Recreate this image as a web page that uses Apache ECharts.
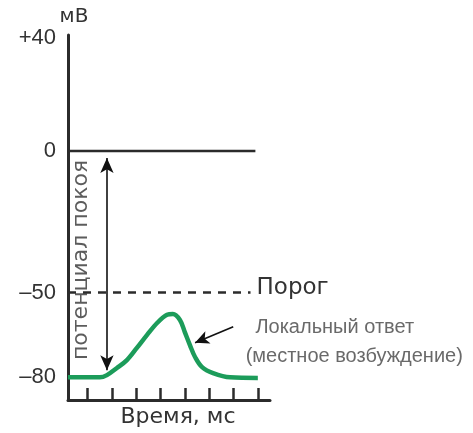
<!DOCTYPE html>
<html><head><meta charset="utf-8">
<script src="https://cdn.jsdelivr.net/npm/echarts@6/dist/echarts.min.js"></script>
<style>html,body{margin:0;padding:0;background:#fff}#c{width:473px;height:433px}</style>
</head><body><div id="c"></div>
<script>
// Data
const timeMs = [0.2, 1.51, 1.80, 2.21, 2.62, 3.03, 3.45, 3.86, 4.27, 4.51, 4.80, 5.00, 5.21, 5.42, 5.71, 6.16, 6.86, 8.0];
const potentialMv = [-80, -80, -79.2, -76.7, -73.9, -69.6, -65.0, -60.8, -57.9, -57.6, -59.7, -64.0, -68.6, -72.8, -76.4, -78.5, -80, -80.2];
const yTickValues = [40, 0, -50, -80];
const yTickLabels = ['+40', '0', '\u201350', '\u201380'];
const xTickValues = [1, 2, 3, 4, 5, 6, 7, 8];
const zeroLevel = 0, thresholdLevel = -50, restLevel = -80;
const zeroLineT = [0.2, 7.9];
const thresholdLineT = [0.2, 7.7];
const restArrowT = 1.8;
const yName = 'мВ', xName = 'Время, мс';
const thresholdText = 'Порог';
const restText = 'потенциал покоя';
const localText1 = 'Локальный ответ', localText2 = '(местное возбуждение)';
const pointerFrom = [6.99, -62.1], pointerTo = [5.42, -67.8];

const font = 'DejaVu Sans, sans-serif';
const font2 = 'Liberation Sans, Arial, sans-serif';
const dark = '#2b2b2b';
const chart = echarts.init(document.getElementById('c'));
chart.setOption({
  animation: false,
  grid: {left: 68, right: 203, top: 35, bottom: 33, containLabel: false, outerBoundsMode: 'none'},
  xAxis: {
    type: 'value', min: 0.2, max: 8.5,
    name: xName, nameLocation: 'middle', nameGap: 6,
    nameTextStyle: {fontFamily: font, fontSize: 22, color: '#333', padding: [0, 0, 0, 18]},
    axisLine: {show: true, onZero: false, lineStyle: {color: dark, width: 3}},
    axisTick: {show: true, inside: true, length: 12, lineStyle: {color: dark, width: 2.5}, customValues: xTickValues},
    axisLabel: {show: false},
    splitLine: {show: false}
  },
  yAxis: {
    type: 'value', min: -88, max: 41,
    name: yName, nameLocation: 'end', nameGap: 6,
    nameTextStyle: {fontFamily: font, fontSize: 20, color: '#333', padding: [0, 0, 0, 12]},
    axisLine: {show: true, onZero: false, lineStyle: {color: dark, width: 3}},
    axisTick: {show: false},
    axisLabel: {
      show: true, customValues: yTickValues, margin: 12,
      fontFamily: font2, fontSize: 22, color: '#333',
      formatter: v => yTickLabels[yTickValues.indexOf(v)]
    },
    splitLine: {show: false}
  },
  series: [
    {
      type: 'line', data: zeroLineT.map(t => [t, zeroLevel]), symbol: 'none',
      lineStyle: {color: dark, width: 2.5}, silent: true
    },
    {
      type: 'line', data: thresholdLineT.map(t => [t, thresholdLevel]), symbol: 'none',
      lineStyle: {color: dark, width: 2.5, type: [8, 7]}, silent: true,
      endLabel: {show: true, formatter: thresholdText, fontFamily: font, fontSize: 23, color: '#333', distance: 6, offset: [0, -4]}
    },
    {
      type: 'line', data: timeMs.map((t, i) => [t, potentialMv[i]]), symbol: 'none', smooth: 0.35,
      lineStyle: {color: '#1c9c5a', width: 4.5}, z: 5
    },
    {
      type: 'line', data: [], symbol: 'none',
      markLine: {
        silent: true, animation: false,
        symbol: ['arrow', 'arrow'], symbolSize: [10, 15],
        lineStyle: {color: '#111', width: 1.6, type: 'solid'},
        label: {show: false},
        data: [
          [{coord: [restArrowT, zeroLevel - 2.5]}, {coord: [restArrowT, restLevel + 2.5]}],
          [{coord: pointerFrom, symbol: 'none'}, {coord: pointerTo, symbol: 'arrow', symbolSize: [10, 14]}]
        ]
      }
    },
    {
      type: 'scatter', symbolSize: 0, silent: true,
      data: [
        {value: [0.73, -38.5], label: {show: true, position: 'inside', rotate: 90, formatter: restText, fontFamily: font, fontSize: 22, color: '#333'}},
        {value: [7.9, -62.5], label: {show: true, position: 'inside', align: 'left', formatter: localText1, fontFamily: font2, fontSize: 20, color: '#444'}},
        {value: [7.5, -72.6], label: {show: true, position: 'inside', align: 'left', formatter: localText2, fontFamily: font2, fontSize: 20, color: '#444'}}
      ]
    }
  ]
});
</script></body></html>
